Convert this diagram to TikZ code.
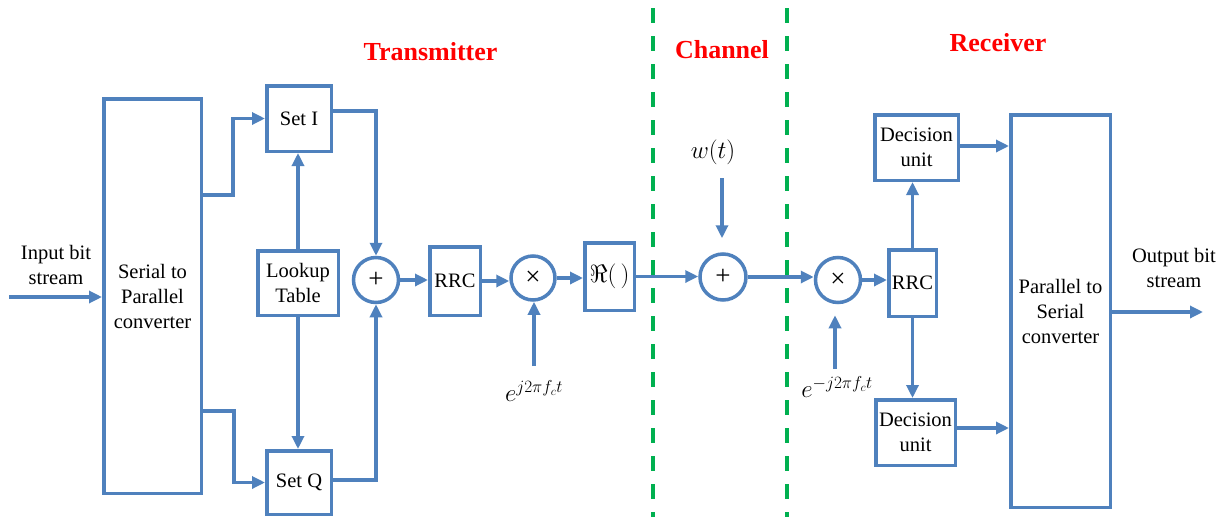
\documentclass[tikz,border=0pt]{standalone}
\usepackage{fontspec}
\setmainfont{Liberation Serif}
\usetikzlibrary{arrows.meta,calc}
\definecolor{bblue}{RGB}{79,129,189}
\definecolor{dgreen}{RGB}{0,176,80}
\begin{document}
\begin{tikzpicture}[x=1pt,y=-1pt,
 blk/.style={draw=bblue,line width=3.5pt,inner sep=0pt,align=center,font=\fontsize{20.5}{25}\selectfont},
 sumc/.style={circle,draw=bblue,line width=3.5pt,inner sep=0pt,font=\fontsize{27}{28}\selectfont},
 arr/.style={draw=bblue,line width=3.2pt,-{Triangle[length=13pt,width=12pt]}},
 ttl/.style={text=red,inner sep=0pt,font=\fontsize{26}{30}\selectfont\bfseries},
 lbl/.style={font=\fontsize{20.5}{25}\selectfont,align=center,inner sep=0pt},
 mlbl/.style={font=\fontsize{25}{28}\selectfont,inner sep=0pt},
 sepline/.style={draw=dgreen,line width=3.5pt,dash pattern=on 15pt off 13pt}]
\useasboundingbox (0,0) rectangle (1227,517);

% channel separators
\draw[sepline] (653,8) -- (653,517);
\draw[sepline] (787,8) -- (787,517);

% titles
\node[ttl] (tx) at (430.5,52) {Transmitter};
\node[ttl] (ch) at (722,50) {Channel};
\node[ttl] (rx) at (998,43) {Receiver};

% blocks
\node[blk,minimum width=97.5pt,minimum height=394.5pt] (sp) at (152.5,296) {Serial to\\Parallel\\converter};
\node[blk,minimum width=64.5pt,minimum height=65.5pt] (setI) at (299,118.5) {Set I};
\node[blk,minimum width=64.5pt,minimum height=63.5pt] (setQ) at (299,482.5) {Set Q};
\node[blk,minimum width=80.5pt,minimum height=64.5pt] (lut) at (298,283) {Lookup\\Table};
\node[sumc,minimum size=45pt] (add1) at (376,280) {+};
\node[blk,minimum width=50.5pt,minimum height=68.5pt] (rrc1) at (455,281) {RRC};
\node[sumc,minimum size=44pt] (mul1) at (533,278) {×};
\node[blk,minimum width=49.5pt,minimum height=67.5pt] (re) at (609.5,276.5) {\fontsize{25}{27}\selectfont$\Re(\,)$};
\node[sumc,minimum size=46pt] (add2) at (723,277) {+};
\node[sumc,minimum size=45pt] (mul2) at (838,280) {×};
\node[blk,minimum width=47.5pt,minimum height=66.5pt] (rrc2) at (912.5,283) {RRC};
\node[blk,minimum width=83.5pt,minimum height=65.5pt] (dec1) at (916.5,147.5) {Decision\\unit};
\node[blk,minimum width=79.5pt,minimum height=65.5pt] (dec2) at (915.5,432.5) {Decision\\unit};
\node[blk,minimum width=99.5pt,minimum height=392.5pt] (ps) at (1060.5,311) {Parallel to\\Serial\\converter};

% labels
\node[lbl] (inlbl) at (56,264.5) {Input bit\\stream};
\node[lbl] (outlbl) at (1174,268) {Output bit\\stream};
\node[mlbl] (wlbl) at (713,152) {$w(t)$};
\node[mlbl] (e1lbl) at (534,391) {$e^{j2\pi f_c t}$};
\node[mlbl] (e2lbl) at (837,387) {$e^{-j2\pi f_c t}$};

% free ends and helper coordinates
\coordinate (in) at (9,297);
\coordinate (out) at (1203,312);
\coordinate (c1) at (534,366);
\coordinate (c2) at (835,369);
\coordinate (wt) at (722,178);
\coordinate (y195) at (0,195);
\coordinate (y411) at (0,411);
\coordinate (y111) at (0,111);
\coordinate (y480) at (0,480);
\coordinate (y428) at (0,428);
\coordinate (y146) at (0,146);

% transmitter connectors
\draw[arr] (in) -- (in -| sp.west);
\draw[arr] (sp.east |- y195) -- ++(30,0) |- (setI.west);
\draw[arr] (sp.east |- y411) -- ++(31,0) |- (setQ.west);
\draw[arr] (lut.north) -- (lut.north |- setI.south);
\draw[arr] (lut.south) -- (lut.south |- setQ.north);
\draw[arr] (setI.east |- y111) -| (add1.north);
\draw[arr] (setQ.east |- y480) -| (add1.south);
\draw[arr] (add1.east) -- (add1.east -| rrc1.west);
\draw[arr] (rrc1.east) -- (rrc1.east -| mul1.west);
\draw[arr] (mul1.east) -- (mul1.east -| re.west);
\draw[arr] (c1) -- (c1 |- mul1.south);

% channel
\draw[arr] (re.east) -- (re.east -| add2.west);
\draw[arr,shorten >=14pt] (wt) -- (wt |- add2.north);
\draw[arr] (add2.east) -- (add2.east -| mul2.west);

% receiver
\draw[arr,shorten >=11pt] (c2) -- (c2 |- mul2.south);
\draw[arr] (mul2.east) -- (mul2.east -| rrc2.west);
\draw[arr] (rrc2.north) -- (rrc2.north |- dec1.south);
\draw[arr] (rrc2.south) -- (rrc2.south |- dec2.north);
\draw[arr] (dec1.east |- y146) -- (ps.west |- y146);
\draw[arr] (dec2.east |- y428) -- (ps.west |- y428);
\draw[arr] (ps.east |- out) -- (out);
\end{tikzpicture}
\end{document}
